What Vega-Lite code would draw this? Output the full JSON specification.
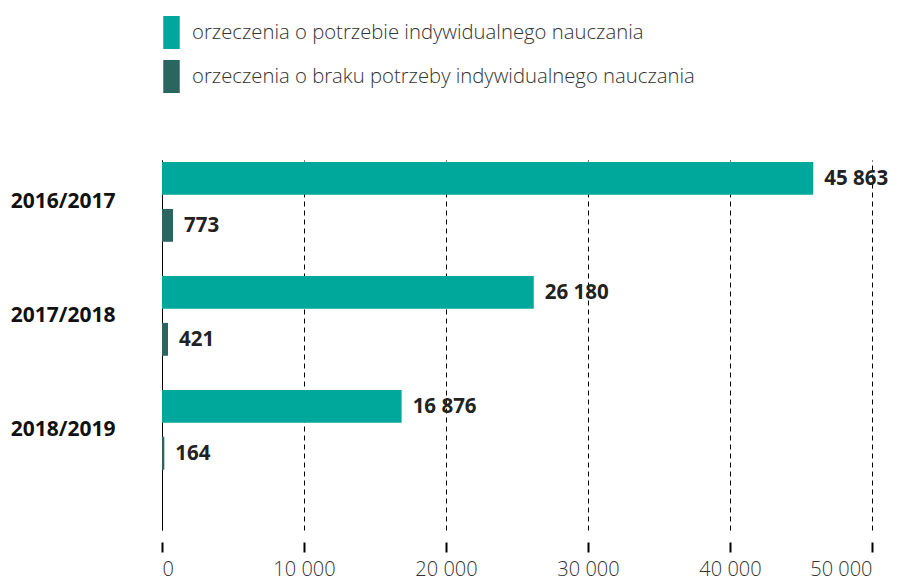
{
  "$schema": "https://vega.github.io/schema/vega-lite/v6.json",
  "autosize": {"type": "none"},
  "width": 710,
  "height": 370,
  "padding": {"left": 162, "top": 160, "right": 31, "bottom": 50},
  "data": {
    "values": [
      {"year": "2016/2017", "series": "orzeczenia o potrzebie indywidualnego nauczania", "value": 45863},
      {"year": "2016/2017", "series": "orzeczenia o braku potrzeby indywidualnego nauczania", "value": 773},
      {"year": "2017/2018", "series": "orzeczenia o potrzebie indywidualnego nauczania", "value": 26180},
      {"year": "2017/2018", "series": "orzeczenia o braku potrzeby indywidualnego nauczania", "value": 421},
      {"year": "2018/2019", "series": "orzeczenia o potrzebie indywidualnego nauczania", "value": 16876},
      {"year": "2018/2019", "series": "orzeczenia o braku potrzeby indywidualnego nauczania", "value": 164}
    ]
  },
  "encoding": {
    "y": {
      "field": "year", "type": "nominal", "title": null,
      "scale": {"paddingInner": 0.3, "paddingOuter": 0.273, "align": 0.032},
      "axis": {
        "domain": true, "domainColor": "#000000", "domainWidth": 1,
        "ticks": false, "labelPadding": 47,
        "labelFont": "Open Sans", "labelFontSize": 21, "labelFontWeight": "bold",
        "labelColor": "#111111", "labelAlign": "right", "grid": false
      }
    },
    "yOffset": {
      "field": "series", "type": "nominal",
      "scale": {"domain": ["orzeczenia o potrzebie indywidualnego nauczania", "orzeczenia o braku potrzeby indywidualnego nauczania"], "paddingInner": 0.3, "paddingOuter": 0}
    }
  },
  "layer": [
    {
      "mark": {"type": "bar"},
      "encoding": {
        "x": {
          "field": "value", "type": "quantitative", "title": null,
          "scale": {"domain": [0, 50000], "nice": false},
          "axis": {
            "orient": "bottom",
            "values": [0, 10000, 20000, 30000, 40000, 50000],
            "domain": false, "ticks": false, "labels": false,
            "grid": true, "gridColor": "#000000", "gridDash": [5, 4], "gridWidth": 1
          }
        },
        "color": {
          "field": "series", "type": "nominal",
          "scale": {
            "domain": ["orzeczenia o potrzebie indywidualnego nauczania", "orzeczenia o braku potrzeby indywidualnego nauczania"],
            "range": ["#00A89C", "#2A6560"]
          },
          "legend": {
            "title": null, "orient": "none", "legendX": -7, "legendY": -144,
            "padding": 0, "rowPadding": 11,
            "symbolType": "M-0.5,-1H0.5V1H-0.5Z", "symbolSize": 1089,
            "symbolStrokeWidth": 0, "symbolOpacity": 1,
            "labelOffset": 4, "labelFont": "Open Sans", "labelFontSize": 20.3,
            "labelFontWeight": 300, "labelColor": "#333333", "labelLimit": 700
          }
        }
      }
    },
    {
      "mark": {"type": "text", "align": "left", "baseline": "middle", "dx": 11, "dy": 1, "font": "Open Sans", "fontSize": 20.5, "fontWeight": "bold", "color": "#222222"},
      "encoding": {
        "x": {
          "field": "value", "type": "quantitative", "title": null,
          "scale": {"domain": [0, 50000], "nice": false},
          "axis": {
            "orient": "bottom",
            "values": [0, 10000, 20000, 30000, 40000, 50000],
            "format": ",d",
            "domain": false, "offset": 12,
            "ticks": true, "tickSize": 10, "tickWidth": 2, "tickColor": "#000000",
            "labelPadding": 7, "labelFont": "Open Sans", "labelFontSize": 20, "labelFontWeight": 300,
            "labelColor": "#333333", "grid": false
          }
        },
        "text": {"field": "value", "type": "quantitative", "format": ",d"}
      }
    }
  ],
  "resolve": {"axis": {"x": "independent"}},
  "config": {
    "view": {"stroke": null},
    "locale": {"number": {"decimal": ",", "thousands": "\u00a0", "grouping": [3], "currency": ["", " zł"]}}
  }
}
